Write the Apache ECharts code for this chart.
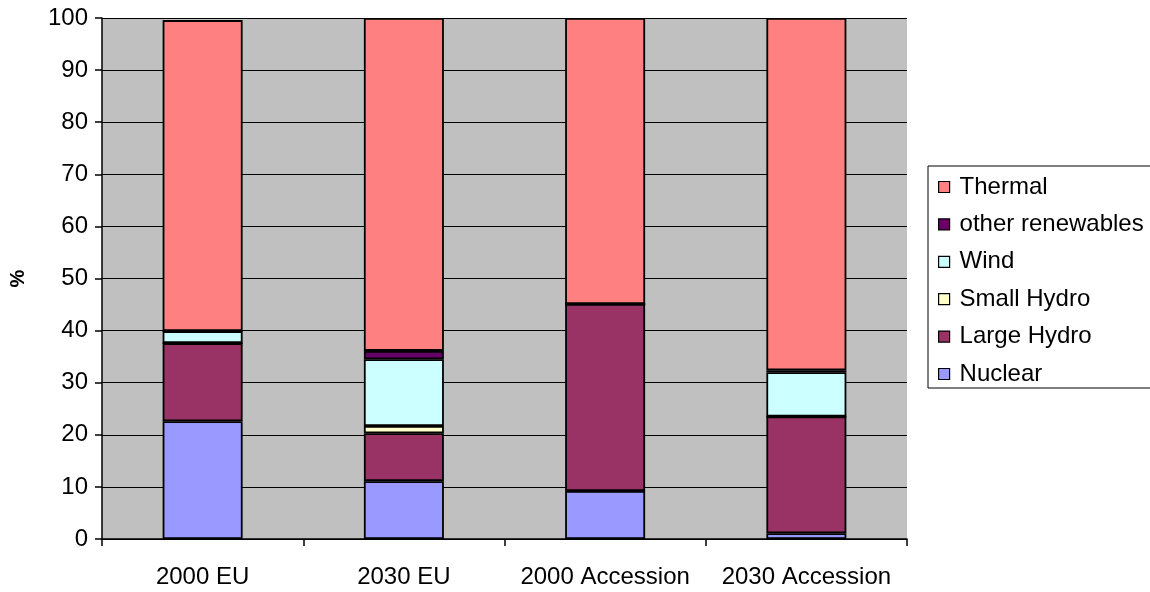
<!DOCTYPE html>
<html>
<head>
<meta charset="utf-8">
<title>Electricity generation mix</title>
<script src="https://cdn.jsdelivr.net/npm/echarts@6/dist/echarts.min.js"></script>
<style>
  html, body { margin: 0; padding: 0; background: #ffffff; }
  #chart { width: 1150px; height: 592px; }
</style>
</head>
<body>
<div id="chart"></div>
<script>
// Share of generation by source (%)
const categories = ['2000 EU', '2030 EU', '2000 Accession', '2030 Accession'];
const nuclear = [22.6, 11.1, 9.2, 1.1];
const largeHydro = [15.0, 9.2, 35.9, 22.4];
const smallHydro = [0, 1.4, 0, 0];
const wind = [2.3, 12.8, 0, 8.5];
const otherRenewables = [0, 1.6, 0, 0.4];
const thermal = [59.7, 63.9, 54.9, 67.6];

const FONT = '"Liberation Sans", Arial, sans-serif';

function barSeries(name, data, color) {
  return {
    name: name,
    type: 'bar',
    stack: 'total',
    barWidth: 80,
    data: data,
    itemStyle: { color: color, borderColor: '#000', borderWidth: 1.8 },
    emphasis: { disabled: true }
  };
}

const chart = echarts.init(document.getElementById('chart'), null, { renderer: 'canvas' });
chart.setOption({
  animation: false,
  textStyle: { fontFamily: FONT },
  grid: {
    left: 102, top: 18, width: 805, height: 521,
    outerBoundsMode: 'none',
    containLabel: false,
    show: true, backgroundColor: '#C0C0C0', borderWidth: 0
  },
  legend: {
    orient: 'vertical',
    left: 928, top: 166,
    data: ['Thermal', 'other renewables', 'Wind', 'Small Hydro', 'Large Hydro', 'Nuclear'],
    icon: 'rect',
    itemWidth: 11, itemHeight: 11,
    itemGap: 13.4,
    padding: [9, 10, 2, 10],
    borderColor: '#000', borderWidth: 1,
    itemStyle: { borderColor: '#000', borderWidth: 1.2 },
    textStyle: { fontSize: 24, color: '#000', fontFamily: FONT, lineHeight: 24, padding: [0, 0, 0, 5] },
    selectedMode: false
  },
  xAxis: {
    type: 'category',
    data: categories,
    axisLine: { lineStyle: { color: '#000', width: 1.5 } },
    axisTick: { show: true, length: 7, lineStyle: { color: '#000', width: 1.5 } },
    axisLabel: { color: '#000', fontSize: 24, margin: 26, interval: 0, hideOverlap: false, fontFamily: FONT },
    splitLine: { show: false }
  },
  yAxis: {
    type: 'value',
    min: 0, max: 100, interval: 10,
    name: '%',
    nameLocation: 'middle',
    nameRotate: 90,
    nameGap: 74,
    nameTextStyle: { color: '#000', fontSize: 20, fontWeight: 'bold', fontFamily: FONT },
    axisLine: { show: true, lineStyle: { color: '#000', width: 1.5 } },
    axisTick: { show: true, length: 7, lineStyle: { color: '#000', width: 1.5 } },
    axisLabel: { color: '#000', fontSize: 24, margin: 14, fontFamily: FONT },
    splitLine: { show: true, lineStyle: { color: '#000', width: 1.2 } }
  },
  series: [
    barSeries('Nuclear', nuclear, '#9999FF'),
    barSeries('Large Hydro', largeHydro, '#993366'),
    barSeries('Small Hydro', smallHydro, '#FFFFCC'),
    barSeries('Wind', wind, '#CCFFFF'),
    barSeries('other renewables', otherRenewables, '#660066'),
    barSeries('Thermal', thermal, '#FF8080')
  ]
});
</script>
</body>
</html>
